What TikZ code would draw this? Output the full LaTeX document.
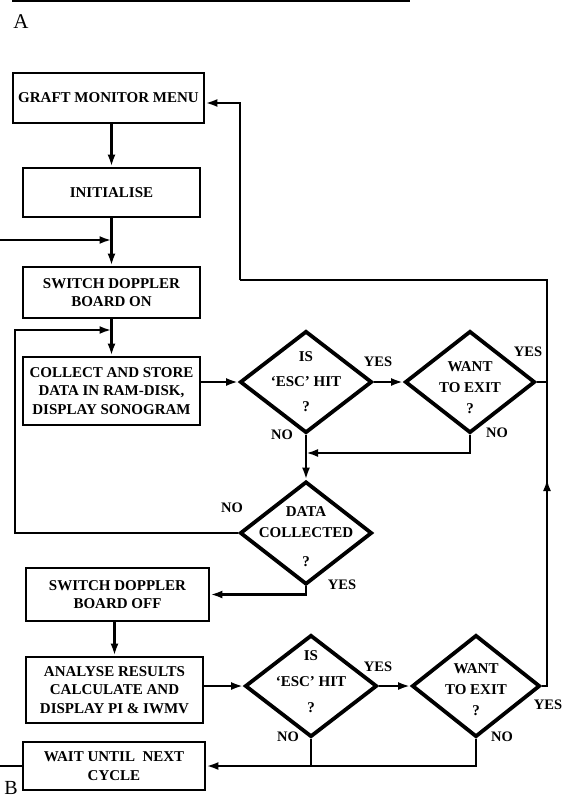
\documentclass[tikz,border=0pt]{standalone}
\usepackage{fontspec}
\setmainfont{Liberation Serif}
\usetikzlibrary{shapes.geometric,arrows.meta}

\tikzset{
 box/.style={rectangle,draw,line width=2.8pt,align=center,inner sep=0pt,font=\fontsize{15}{18.5}\selectfont\bfseries},
 dia/.style={diamond,draw,line width=3.8pt,inner sep=0pt,minimum width=132pt,minimum height=102pt},
 dtext/.style={align=center,inner sep=0pt,font=\fontsize{15}{21}\selectfont\bfseries},
 lab/.style={inner sep=0pt,font=\fontsize{14.5}{18}\selectfont\bfseries},
 page/.style={inner sep=0pt,font=\fontsize{21}{24}\selectfont},
 wire/.style={line width=2.6pt},
 arr/.style={wire,-{Latex[length=12pt,width=8pt]}}
}

\begin{document}
\begin{tikzpicture}[x=1pt,y=-1pt]
\useasboundingbox (0,0) rectangle (565,798);
% cut edge of the previous part
\coordinate (cuta) at (12,1);
\coordinate (cutb) at (410,1);
\draw[line width=1.5pt] (cuta) -- (cutb);
\node[page] (pa) at (21,22) {A};
\node[page,font=\fontsize{20}{24}\selectfont] (pb) at (11,788) {B};

% boxes
\node[box,minimum width=191pt,minimum height=50pt] (menu) at (108.5,98) {GRAFT MONITOR MENU};
\node[box,minimum width=177pt,minimum height=49pt] (init) at (111.5,192.5) {INITIALISE};
\node[box,minimum width=177pt,minimum height=51pt] (boardon) at (111.5,292.5) {SWITCH DOPPLER\\BOARD ON};
\node[box,minimum width=177pt,minimum height=68pt] (collect) at (111.5,391) {COLLECT AND STORE\\DATA IN RAM-DISK,\\DISPLAY SONOGRAM};
\node[box,minimum width=183pt,minimum height=53pt] (boardoff) at (117.5,594.5) {SWITCH DOPPLER\\BOARD OFF};
\node[box,minimum width=177pt,minimum height=66pt] (analyse) at (114.5,690) {ANALYSE RESULTS\\CALCULATE AND\\DISPLAY PI \& IWMV};
\node[box,minimum width=182pt,minimum height=48pt] (wait) at (114,766) {WAIT UNTIL~~NEXT\\CYCLE};

% decisions
\node[dia] (esca) at (306,382) {};
\node[dia,minimum width=130pt] (exita) at (470,382) {};
\node[dia,minimum height=103pt] (datacol) at (306,533) {};
\node[dia] (escb) at (311,686) {};
\node[dia,minimum width=128pt] (exitb) at (476,686) {};
\node[dtext] at (esca) {IS\\[4pt]`ESC' HIT\\[4pt]?};
\node[dtext] at ([yshift=-6pt]exita) {WANT\\TO EXIT\\?};
\node[dtext] at ([yshift=-4pt]datacol) {DATA\\COLLECTED\\[8pt]?};
\node[dtext] at ([yshift=4pt]escb) {IS\\[5pt]`ESC' HIT\\[5pt]?};
\node[dtext] at ([yshift=-4pt]exitb) {WANT\\TO EXIT\\?};

% answers
\node[lab] at (378,362) {YES};
\node[lab] at (282,435) {NO};
\node[lab] at (528,352) {YES};
\node[lab] at (497,433) {NO};
\node[lab] at (232,508) {NO};
\node[lab] at (342,585) {YES};
\node[lab] at (378,667) {YES};
\node[lab] at (288,737) {NO};
\node[lab] at (502,737) {NO};
\node[lab] at (548,705) {YES};

% free ends and corners
\coordinate (ina) at (0,240);
\coordinate (outb) at (0,766);
\coordinate (nojoin) at (306,453);
\coordinate (loopx) at (15,330);
\coordinate (rtop) at (547,280);
\coordinate (rmid) at (547,485);
\coordinate (ltop) at (240,280);

% connectors
\draw[arr] (menu.south -| init) -- (init);
\draw[arr] (init) -- (boardon);
\draw[arr] (ina) -- (ina -| init);
\draw[arr] (boardon) -- (collect);
\draw[arr] (esca -| collect.east) -- (esca.west);
\draw[arr] (esca) -- (exita);
\draw[arr] (exita.south) |- (nojoin);
\draw[arr] (esca) -- (datacol);
\draw[arr] (datacol.west) -| (loopx) -- (loopx -| collect);
\draw[arr] (datacol.south) |- (boardoff.east);
\draw[arr] (boardoff.south -| analyse) -- (analyse);
\draw[arr] (escb -| analyse.east) -- (escb.west);
\draw[arr] (escb) -- (exitb);
\draw[arr] (exitb.south) |- (wait.east);
\draw[wire] (escb.south) -- (escb.south |- wait.east);
\draw[wire] (wait.west) -- (outb);
\draw[wire] (exita.east) -- (exita.east -| rtop);
\draw[wire] (exitb.east) -| (rmid);
\draw[arr] ([yshift=-6pt]rmid) -- ([yshift=6pt]rmid);
\draw[wire] (rmid) -- (rtop) -- (ltop);
\draw[arr] (ltop) |- ([yshift=-5pt]menu.east);
\end{tikzpicture}
\end{document}
